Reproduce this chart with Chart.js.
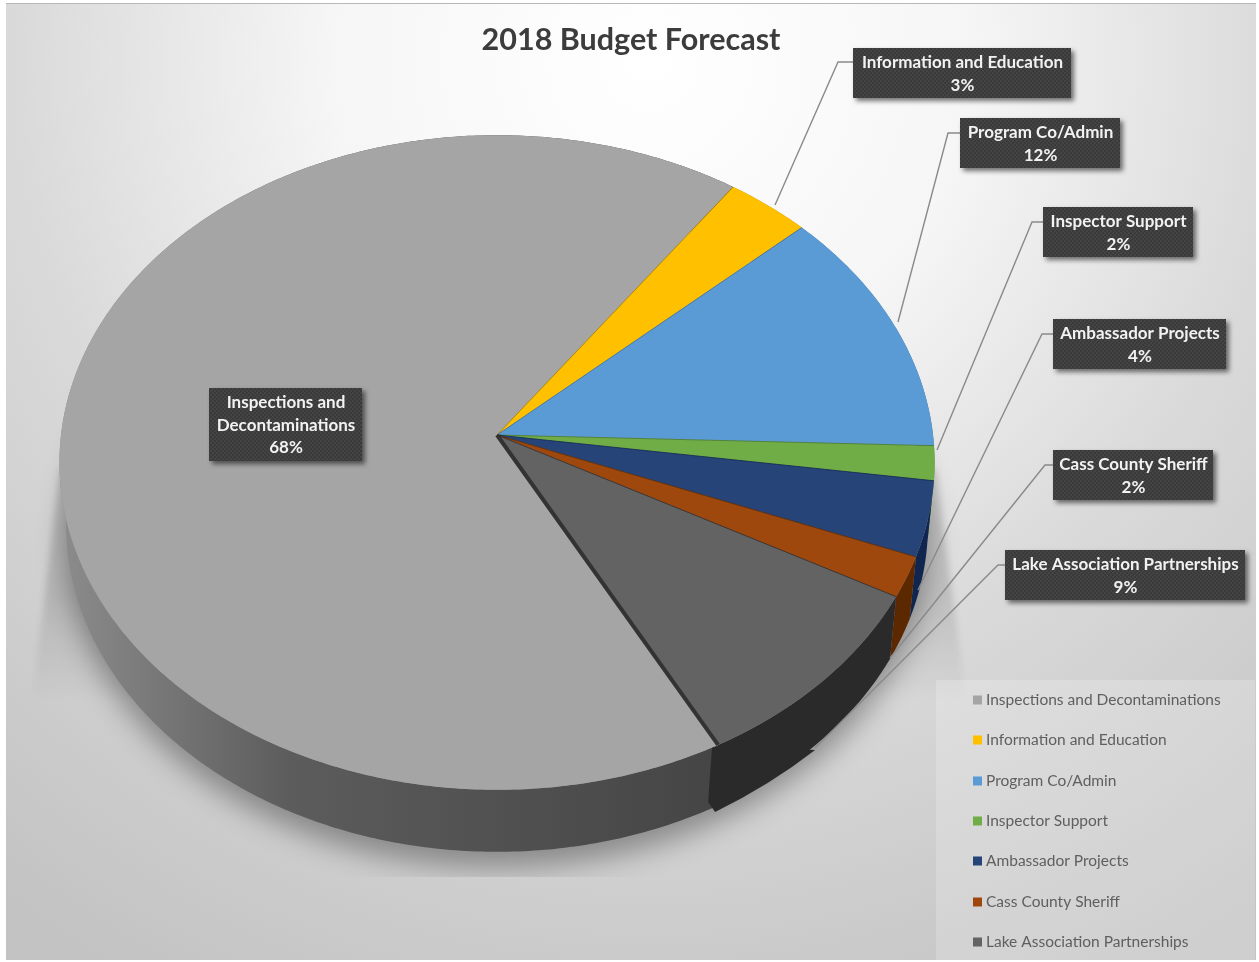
<!DOCTYPE html>
<html>
<head>
<meta charset="utf-8">
<title>2018 Budget Forecast</title>
<script src="https://cdn.jsdelivr.net/npm/chart.js@4"></script>
<style>
  html, body { margin: 0; padding: 0; background: #fff; }
  canvas { display: block; }
</style>
</head>
<body>
<canvas id="budgetChart" width="1259" height="962"></canvas>
<script>
const categories = ['Inspections and Decontaminations', 'Information and Education', 'Program Co/Admin',
    'Inspector Support', 'Ambassador Projects', 'Cass County Sheriff', 'Lake Association Partnerships'];
const shares = [67.6, 3.4, 12.3, 1.7, 3.7, 2.0, 9.3];
const sliceColors = ['#a5a5a5', '#ffc000', '#5b9bd5', '#70ad47', '#264478', '#9e480e', '#636363'];
const wallColors = ['#555555', '#a87f00', '#3c6e9c', '#4a7a2c', '#10264f', '#5c2800', '#2a2a2a'];

// geometry of the tilted disc, apex is not the middle of the ellipse because of the perspective
const apexX = 497, apexY = 435, radiusX = 436, radiusY = 325, tilt = -0.084;
const wallDepth = 62, wallShrink = 0.985;

// label boxes and their leader lines, in the order of categories
const boxes = [
    { x: 209, y: 388, w: 153, h: 73, lines: ['Inspections and', 'Decontaminations'] },
    { x: 853, y: 48, w: 218, h: 50, leader: [[853, 62], [838, 62], [775, 205]] },
    { x: 960, y: 118, w: 160, h: 50, leader: [[960, 133], [948, 133], [898, 322]] },
    { x: 1043, y: 207, w: 150, h: 50, leader: [[1043, 222], [1032, 222], [937, 450]] },
    { x: 1053, y: 319, w: 173, h: 50, leader: [[1053, 334], [1042, 334], [918, 590]] },
    { x: 1053, y: 450, w: 160, h: 50, leader: [[1053, 465], [1045, 465], [890, 658]] },
    { x: 1005, y: 550, w: 240, h: 50, leader: [[1005, 565], [998, 565], [815, 748]] }
];
const legendRows = [700, 740, 781, 821, 861, 902, 942];

function rimPoint(angle, wall) {
    const u = Math.cos(angle), v = Math.sin(angle), w = 1 + tilt * v;
    const x = radiusX * u / w, y = radiusY * v / w;
    return wall ? [apexX + x * wallShrink, apexY + y + wallDepth] : [apexX + x, apexY + y];
}

function traceRim(ctx, from, to, wall, reverse) {
    const steps = Math.max(2, Math.ceil((to - from) * 90));
    for (let i = 0; i <= steps; i++) {
        const t = reverse ? 1 - i / steps : i / steps;
        const p = rimPoint(from + (to - from) * t, wall);
        ctx.lineTo(p[0], p[1]);
    }
}

function hatch(ctx) {
    const c = document.createElement('canvas');
    c.width = c.height = 4;
    const g = c.getContext('2d');
    g.fillStyle = '#3a3a3a';
    g.fillRect(0, 0, 4, 4);
    g.fillStyle = '#444444';
    g.fillRect(0, 0, 2, 2);
    g.fillRect(2, 2, 2, 2);
    return ctx.createPattern(c, 'repeat');
}

const backdrop = {
    id: 'backdrop',
    beforeDraw(chart) {
        const ctx = chart.ctx;
        const bg = ctx.createRadialGradient(650, 60, 0, 650, 60, 1050);
        bg.addColorStop(0, '#ffffff');
        bg.addColorStop(0.3, '#f6f6f6');
        bg.addColorStop(0.6, '#dadada');
        bg.addColorStop(0.85, '#cbcbcb');
        bg.addColorStop(1, '#c3c3c3');
        ctx.fillStyle = bg;
        ctx.fillRect(6, 4, 1250, 956);
        ctx.fillStyle = '#b8b8b8';
        ctx.fillRect(6, 3, 1250, 1);

        // soft shadow under the disc, fades out downwards on both sides
        ctx.save();
        ctx.beginPath();
        ctx.rect(6, 4, 1250, 873);
        ctx.clip();
        const band = ctx.createLinearGradient(0, 470, 0, 700);
        band.addColorStop(0, 'rgba(0,0,0,0.14)');
        band.addColorStop(0.55, 'rgba(0,0,0,0.12)');
        band.addColorStop(1, 'rgba(0,0,0,0)');
        ctx.filter = 'blur(3px)';
        ctx.fillStyle = band;
        ctx.beginPath();
        ctx.moveTo(60, 470);
        ctx.lineTo(32, 700);
        ctx.lineTo(966, 700);
        ctx.lineTo(936, 470);
        ctx.closePath();
        ctx.fill();
        ctx.filter = 'blur(14px)';
        ctx.fillStyle = 'rgba(0,0,0,0.34)';
        ctx.beginPath();
        for (let a = 0; a <= 360; a += 3) {
            const p = rimPoint(a * Math.PI / 180, true);
            ctx.lineTo(p[0], p[1] + 16);
        }
        ctx.closePath();
        ctx.fill();
        ctx.restore();
    }
};

const tiltedPie = {
    id: 'tiltedPie',
    beforeDatasetDraw(chart, args) {
        const ctx = chart.ctx;
        const arcs = chart.getDatasetMeta(args.index).data;

        // side walls first, the top face covers what is at the back
        const mainWall = ctx.createLinearGradient(60, 0, 720, 0);
        mainWall.addColorStop(0, '#8c8c8c');
        mainWall.addColorStop(0.35, '#5c5c5c');
        mainWall.addColorStop(1, '#454545');
        arcs.forEach((arc, i) => {
            ctx.beginPath();
            traceRim(ctx, arc.startAngle, arc.endAngle, false, false);
            traceRim(ctx, arc.startAngle, arc.endAngle, true, true);
            ctx.closePath();
            ctx.fillStyle = i === 0 ? mainWall : wallColors[i];
            ctx.fill();
        });

        // the last slice stands a little proud of the big one at the cut
        const cut = rimPoint(arcs[0].startAngle, false);
        ctx.beginPath();
        ctx.moveTo(cut[0] - 6, cut[1] + 2);
        ctx.lineTo(cut[0] - 10, cut[1] + 57);
        ctx.lineTo(cut[0] - 3, cut[1] + 67);
        ctx.quadraticCurveTo(cut[0] + 52, cut[1] + 40, cut[0] + 97, cut[1] + 5);
        ctx.lineTo(cut[0] + 14, cut[1]);
        ctx.closePath();
        ctx.fillStyle = wallColors[6];
        ctx.fill();

        arcs.forEach((arc, i) => {
            ctx.beginPath();
            ctx.moveTo(apexX, apexY);
            traceRim(ctx, arc.startAngle, arc.endAngle, false, false);
            ctx.closePath();
            ctx.fillStyle = sliceColors[i];
            ctx.fill();
        });

        // thin seams between the slices
        arcs.forEach((arc, i) => {
            const p = rimPoint(arc.startAngle, false);
            ctx.beginPath();
            ctx.moveTo(apexX, apexY);
            ctx.lineTo(p[0], p[1]);
            ctx.strokeStyle = i === 0 ? '#333333' : wallColors[i];
            ctx.lineWidth = i === 0 ? 4 : 0.8;
            ctx.stroke();
        });
        return false;
    }
};

const labelBoxes = {
    id: 'labelBoxes',
    afterDatasetsDraw(chart) {
        const ctx = chart.ctx;
        const pattern = hatch(ctx);
        ctx.save();
        ctx.strokeStyle = '#8a8a8a';
        ctx.lineWidth = 1.4;
        boxes.forEach(box => {
            if (!box.leader) return;
            ctx.beginPath();
            box.leader.forEach(p => ctx.lineTo(p[0], p[1]));
            ctx.stroke();
        });

        ctx.textAlign = 'center';
        ctx.textBaseline = 'middle';
        ctx.font = 'bold 17px Lato';
        boxes.forEach((box, i) => {
            ctx.save();
            ctx.shadowColor = 'rgba(0,0,0,0.55)';
            ctx.shadowBlur = 5;
            ctx.shadowOffsetX = 3;
            ctx.shadowOffsetY = 3;
            ctx.fillStyle = pattern;
            ctx.fillRect(box.x, box.y, box.w, box.h);
            ctx.restore();
            const rows = (box.lines || [categories[i]]).concat(Math.round(shares[i]) + '%');
            ctx.fillStyle = '#f2f2f2';
            rows.forEach((row, r) => {
                ctx.fillText(row, box.x + box.w / 2 + 0.5, box.y + 15 + r * 22.5);
            });
        });

        // legend panel
        ctx.fillStyle = 'rgba(255,255,255,0.2)';
        ctx.fillRect(936, 680, 319, 280);
        ctx.textAlign = 'left';
        ctx.font = '15.5px Lato';
        categories.forEach((name, i) => {
            ctx.fillStyle = sliceColors[i];
            ctx.fillRect(973, legendRows[i] - 4.5, 9, 9);
            ctx.fillStyle = '#5f5f5f';
            ctx.fillText(name, 986, legendRows[i]);
        });
        ctx.restore();
    }
};

new Chart(document.getElementById('budgetChart').getContext('2d'), {
    type: 'pie',
    data: {
        labels: categories,
        datasets: [{ data: shares, backgroundColor: sliceColors, borderWidth: 0 }]
    },
    options: {
        responsive: false,
        animation: false,
        rotation: 152,
        layout: { padding: { left: 3 } },
        plugins: {
            legend: { display: false },
            tooltip: { enabled: false },
            title: {
                display: true,
                text: '2018 Budget Forecast',
                color: '#3c3c3c',
                font: { family: 'Lato', size: 30.5, weight: 'bold' },
                padding: { top: 22, bottom: 10 }
            }
        }
    },
    plugins: [backdrop, tiltedPie, labelBoxes]
});
</script>
</body>
</html>
